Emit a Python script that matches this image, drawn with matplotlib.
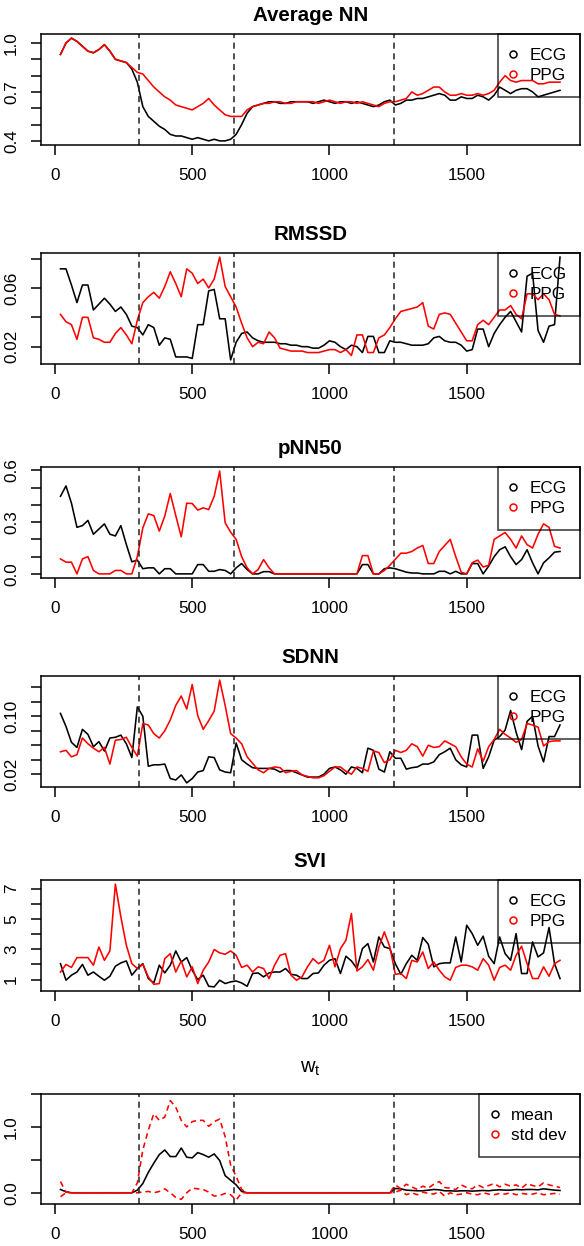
import numpy as np
import matplotlib
matplotlib.use("Agg")
import matplotlib.pyplot as plt
from matplotlib.lines import Line2D

plt.rcParams['font.family'] = ['Liberation Sans', 'DejaVu Sans']
plt.rcParams['mathtext.fontset'] = 'custom'
plt.rcParams['mathtext.rm'] = 'Liberation Sans'
plt.rcParams['mathtext.it'] = 'Liberation Sans'

# time axis (s) and event markers
time = np.arange(20, 1841, 20)
events = [307, 651, 1234]
xticks = [0, 500, 1000, 1500]

avgnn_ecg = [0.93, 1.00, 1.03, 1.01, 0.98, 0.95, 0.94, 0.96, 0.99, 0.95,
             0.90, 0.89, 0.88, 0.84, 0.76, 0.61, 0.55, 0.52, 0.49, 0.47,
             0.44, 0.43, 0.43, 0.42, 0.41, 0.42, 0.41, 0.40, 0.41, 0.40,
             0.40, 0.41, 0.44, 0.50, 0.57, 0.61, 0.62, 0.63, 0.64, 0.64,
             0.63, 0.63, 0.64, 0.64, 0.64, 0.64, 0.63, 0.64, 0.65, 0.64,
             0.63, 0.64, 0.64, 0.63, 0.64, 0.63, 0.62, 0.61, 0.62, 0.64,
             0.65, 0.62, 0.63, 0.65, 0.65, 0.66, 0.66, 0.67, 0.68, 0.69,
             0.68, 0.65, 0.65, 0.67, 0.66, 0.66, 0.68, 0.67, 0.65, 0.68,
             0.73, 0.71, 0.69, 0.71, 0.72, 0.72, 0.70, 0.67, 0.68, 0.69,
             0.70, 0.71]
avgnn_ppg = [0.93, 1.00, 1.03, 1.01, 0.98, 0.95, 0.94, 0.96, 0.99, 0.95,
             0.90, 0.89, 0.88, 0.85, 0.82, 0.81, 0.77, 0.73, 0.70, 0.67,
             0.65, 0.62, 0.61, 0.60, 0.59, 0.61, 0.63, 0.66, 0.62, 0.59,
             0.56, 0.55, 0.55, 0.55, 0.59, 0.61, 0.62, 0.63, 0.63, 0.64,
             0.64, 0.63, 0.63, 0.64, 0.64, 0.64, 0.64, 0.63, 0.64, 0.65,
             0.64, 0.63, 0.64, 0.64, 0.63, 0.64, 0.63, 0.62, 0.61, 0.63,
             0.64, 0.64, 0.65, 0.66, 0.70, 0.68, 0.69, 0.71, 0.73, 0.73,
             0.70, 0.68, 0.68, 0.69, 0.68, 0.68, 0.69, 0.68, 0.69, 0.71,
             0.76, 0.80, 0.77, 0.76, 0.77, 0.77, 0.77, 0.75, 0.75, 0.76,
             0.76, 0.76]

rmssd_ecg = [0.073, 0.073, 0.062, 0.050, 0.062, 0.062, 0.045, 0.049, 0.053, 0.049,
             0.044, 0.047, 0.042, 0.034, 0.033, 0.028, 0.035, 0.033, 0.021, 0.026,
             0.025, 0.013, 0.013, 0.013, 0.012, 0.035, 0.035, 0.058, 0.059, 0.039,
             0.039, 0.011, 0.023, 0.029, 0.030, 0.026, 0.024, 0.023, 0.023, 0.023,
             0.022, 0.022, 0.021, 0.021, 0.020, 0.020, 0.019, 0.019, 0.021, 0.024,
             0.023, 0.020, 0.018, 0.021, 0.020, 0.016, 0.027, 0.027, 0.016, 0.016,
             0.024, 0.023, 0.023, 0.022, 0.021, 0.021, 0.021, 0.022, 0.026, 0.027,
             0.024, 0.023, 0.023, 0.021, 0.017, 0.018, 0.032, 0.032, 0.020, 0.029,
             0.035, 0.040, 0.044, 0.037, 0.030, 0.068, 0.070, 0.031, 0.023, 0.034,
             0.035, 0.081]
rmssd_ppg = [0.042, 0.037, 0.035, 0.025, 0.040, 0.040, 0.026, 0.025, 0.023, 0.023,
             0.029, 0.033, 0.028, 0.022, 0.038, 0.050, 0.054, 0.057, 0.053, 0.061,
             0.071, 0.063, 0.054, 0.073, 0.070, 0.063, 0.066, 0.060, 0.066, 0.081,
             0.061, 0.054, 0.047, 0.036, 0.026, 0.020, 0.023, 0.022, 0.030, 0.026,
             0.019, 0.018, 0.017, 0.017, 0.017, 0.016, 0.016, 0.016, 0.017, 0.018,
             0.018, 0.016, 0.018, 0.014, 0.028, 0.028, 0.016, 0.016, 0.026, 0.028,
             0.033, 0.039, 0.044, 0.045, 0.046, 0.047, 0.050, 0.034, 0.032, 0.042,
             0.043, 0.042, 0.036, 0.030, 0.024, 0.024, 0.035, 0.038, 0.035, 0.040,
             0.045, 0.045, 0.048, 0.042, 0.039, 0.056, 0.056, 0.052, 0.056, 0.052,
             0.042, 0.041]

pnn50_ecg = [0.45, 0.51, 0.41, 0.27, 0.28, 0.31, 0.23, 0.26, 0.29, 0.23,
             0.22, 0.28, 0.17, 0.07, 0.08, 0.03, 0.035, 0.035, 0.0, 0.03,
             0.03, 0.0, 0.0, 0.0, 0.0, 0.054, 0.054, 0.015, 0.015, 0.025,
             0.02, 0.0, 0.035, 0.06, 0.025, 0.0, 0.0, 0.013, 0.013, 0.0,
             0.0, 0.0, 0.0, 0.0, 0.0, 0.0, 0.0, 0.0, 0.0, 0.0,
             0.0, 0.0, 0.0, 0.0, 0.0, 0.054, 0.054, 0.0, 0.0, 0.03,
             0.035, 0.03, 0.02, 0.01, 0.005, 0.005, 0.0, 0.0, 0.0, 0.015,
             0.015, 0.0, 0.015, 0.0, 0.0, 0.06, 0.06, 0.0, 0.045, 0.10,
             0.14, 0.157, 0.10, 0.054, 0.083, 0.14, 0.064, 0.0, 0.064, 0.093,
             0.126, 0.13]
pnn50_ppg = [0.087, 0.068, 0.068, 0.0, 0.087, 0.10, 0.02, 0.0, 0.0, 0.0,
             0.02, 0.02, 0.0, 0.0, 0.10, 0.267, 0.348, 0.338, 0.248, 0.335,
             0.466, 0.338, 0.215, 0.41, 0.408, 0.37, 0.383, 0.373, 0.45, 0.596,
             0.296, 0.242, 0.20, 0.10, 0.035, 0.0, 0.025, 0.083, 0.035, 0.0,
             0.0, 0.0, 0.0, 0.0, 0.0, 0.0, 0.0, 0.0, 0.0, 0.0,
             0.0, 0.0, 0.0, 0.0, 0.0, 0.106, 0.106, 0.0, 0.0, 0.02,
             0.05, 0.085, 0.12, 0.12, 0.13, 0.15, 0.165, 0.06, 0.06, 0.13,
             0.165, 0.20, 0.10, 0.01, 0.0, 0.065, 0.08, 0.04, 0.05, 0.20,
             0.22, 0.24, 0.20, 0.15, 0.22, 0.17, 0.15, 0.23, 0.29, 0.27,
             0.16, 0.15]

sdnn_ecg = [0.104, 0.086, 0.064, 0.057, 0.082, 0.075, 0.058, 0.065, 0.052, 0.070,
            0.071, 0.074, 0.062, 0.043, 0.113, 0.100, 0.031, 0.033, 0.033, 0.034,
            0.014, 0.012, 0.019, 0.008, 0.014, 0.023, 0.025, 0.044, 0.043, 0.026,
            0.023, 0.022, 0.063, 0.040, 0.034, 0.029, 0.028, 0.028, 0.028, 0.027,
            0.023, 0.025, 0.025, 0.022, 0.019, 0.016, 0.016, 0.016, 0.020, 0.028,
            0.030, 0.026, 0.020, 0.030, 0.028, 0.022, 0.056, 0.053, 0.027, 0.023,
            0.051, 0.042, 0.042, 0.027, 0.029, 0.030, 0.034, 0.034, 0.037, 0.047,
            0.051, 0.056, 0.040, 0.033, 0.030, 0.074, 0.074, 0.028, 0.044, 0.067,
            0.072, 0.081, 0.108, 0.078, 0.054, 0.093, 0.100, 0.059, 0.037, 0.072,
            0.072, 0.088]
sdnn_ppg = [0.051, 0.053, 0.044, 0.047, 0.070, 0.062, 0.056, 0.051, 0.057, 0.034,
            0.067, 0.068, 0.071, 0.057, 0.045, 0.090, 0.088, 0.076, 0.070, 0.080,
            0.095, 0.115, 0.128, 0.110, 0.144, 0.101, 0.082, 0.094, 0.107, 0.150,
            0.115, 0.076, 0.070, 0.062, 0.044, 0.035, 0.026, 0.022, 0.028, 0.030,
            0.029, 0.022, 0.024, 0.025, 0.019, 0.017, 0.015, 0.015, 0.018, 0.024,
            0.030, 0.030, 0.024, 0.020, 0.030, 0.028, 0.024, 0.052, 0.050, 0.036,
            0.040, 0.053, 0.050, 0.053, 0.062, 0.058, 0.045, 0.060, 0.057, 0.058,
            0.066, 0.062, 0.058, 0.044, 0.034, 0.030, 0.055, 0.038, 0.058, 0.068,
            0.082, 0.075, 0.070, 0.064, 0.068, 0.090, 0.088, 0.085, 0.059, 0.065,
            0.066, 0.066]

svi_ecg = [2.05, 0.96, 1.29, 1.50, 2.00, 1.29, 1.50, 1.22, 0.96, 1.22,
           1.88, 2.10, 2.23, 1.29, 1.73, 2.05, 1.07, 0.78, 1.95, 1.44,
           1.95, 2.89, 2.16, 2.45, 1.62, 1.00, 1.29, 0.56, 0.52, 0.96,
           0.74, 0.85, 0.91, 0.78, 0.56, 1.40, 1.44, 1.18, 1.44, 1.50,
           1.50, 1.73, 1.35, 1.29, 1.07, 1.07, 1.40, 1.44, 1.95, 2.27,
           2.38, 1.40, 2.54, 2.23, 1.73, 3.04, 3.37, 2.16, 3.81, 3.15,
           3.04, 2.05, 1.35, 2.05, 2.60, 2.27, 3.77, 3.33, 1.84, 2.05,
           2.10, 2.10, 3.81, 2.16, 4.58, 4.03, 3.26, 3.86, 2.54, 2.05,
           3.81, 2.71, 2.27, 4.03, 1.40, 1.40, 3.48, 2.49, 2.76, 4.43,
           2.05, 1.07]
svi_ppg = [1.50, 2.00, 1.80, 2.45, 2.45, 2.45, 1.95, 3.15, 2.27, 2.89,
           7.29, 5.13, 3.26, 2.05, 1.73, 2.00, 1.18, 0.69, 0.74, 2.38,
           2.71, 1.50, 2.23, 1.18, 1.84, 0.74, 1.62, 2.16, 2.98, 2.76,
           2.67, 2.89, 2.60, 1.80, 1.95, 1.50, 1.84, 1.73, 1.07, 1.95,
           2.60, 2.71, 1.29, 0.96, 1.18, 1.84, 2.38, 2.05, 2.27, 3.26,
           1.84, 3.04, 3.59, 5.35, 1.57, 1.84, 2.32, 1.62, 3.15, 4.14,
           3.15, 1.35, 1.40, 1.07, 2.27, 2.16, 2.82, 1.73, 2.16, 1.62,
           1.18, 0.96, 1.80, 1.95, 1.95, 1.84, 1.62, 2.38, 1.95, 0.96,
           1.80, 1.95, 1.62, 2.60, 3.20, 2.05, 1.07, 1.07, 1.84, 1.22,
           2.05, 2.27]

wt_mean = [0.05, 0.015, 0.0, 0.0, 0.0, 0.0, 0.0, 0.0, 0.0, 0.0,
           0.0, 0.0, 0.0, 0.0, 0.04, 0.14, 0.31, 0.45, 0.58, 0.65,
           0.55, 0.55, 0.68, 0.54, 0.53, 0.61, 0.58, 0.54, 0.59, 0.49,
           0.26, 0.19, 0.12, 0.02, 0.0, 0.0, 0.0, 0.0, 0.0, 0.0,
           0.0, 0.0, 0.0, 0.0, 0.0, 0.0, 0.0, 0.0, 0.0, 0.0,
           0.0, 0.0, 0.0, 0.0, 0.0, 0.0, 0.0, 0.0, 0.0, 0.0,
           0.0, 0.065, 0.06, 0.04, 0.035, 0.03, 0.03, 0.04, 0.05, 0.045,
           0.03, 0.03, 0.025, 0.03, 0.03, 0.025, 0.03, 0.035, 0.03, 0.04,
           0.045, 0.04, 0.04, 0.05, 0.045, 0.05, 0.05, 0.045, 0.06, 0.05,
           0.04, 0.035]
wt_upper = [0.17, 0.01, 0.0, 0.0, 0.0, 0.0, 0.0, 0.0, 0.0, 0.0,
            0.0, 0.0, 0.0, 0.0, 0.15, 0.65, 0.95, 1.20, 1.10, 1.15,
            1.40, 1.30, 1.10, 1.00, 1.08, 1.10, 1.10, 1.01, 1.08, 1.12,
            0.85, 0.42, 0.25, 0.05, 0.0, 0.0, 0.0, 0.0, 0.0, 0.0,
            0.0, 0.0, 0.0, 0.0, 0.0, 0.0, 0.0, 0.0, 0.0, 0.0,
            0.0, 0.0, 0.0, 0.0, 0.0, 0.0, 0.0, 0.0, 0.0, 0.0,
            0.0, 0.12, 0.06, 0.13, 0.09, 0.05, 0.10, 0.07, 0.13, 0.17,
            0.08, 0.07, 0.05, 0.12, 0.08, 0.06, 0.12, 0.08, 0.11, 0.14,
            0.09, 0.13, 0.10, 0.12, 0.07, 0.14, 0.11, 0.09, 0.15, 0.12,
            0.10, 0.08]
wt_lower = [-0.06, 0.0, 0.0, 0.0, 0.0, 0.0, 0.0, 0.0, 0.0, 0.0,
            0.0, 0.0, 0.0, 0.0, 0.0, 0.015, 0.02, 0.0, 0.02, 0.06,
            0.0, -0.07, -0.10, 0.0, 0.07, 0.06, 0.05, 0.01, -0.05, -0.04,
            -0.01, -0.03, -0.11, 0.0, 0.0, 0.0, 0.0, 0.0, 0.0, 0.0,
            0.0, 0.0, 0.0, 0.0, 0.0, 0.0, 0.0, 0.0, 0.0, 0.0,
            0.0, 0.0, 0.0, 0.0, 0.0, 0.0, 0.0, 0.0, 0.0, 0.0,
            0.0, 0.01, 0.04, -0.03, 0.0, -0.03, 0.01, -0.01, -0.02, 0.02,
            -0.05, 0.0, -0.03, -0.02, 0.0, -0.02, -0.03, 0.0, -0.02, -0.03,
            -0.01, -0.02, 0.0, -0.03, -0.01, -0.02, -0.02, 0.0, -0.03, -0.02,
            -0.01, -0.02]

# panel definitions: title, (series, colour, linestyle), legend labels, y ticks and labels
panels = [
    ('Average NN', [(avgnn_ecg, 'black', '-'), (avgnn_ppg, 'red', '-')], ['ECG', 'PPG'],
     [0.4, 0.5, 0.6, 0.7, 0.8, 0.9, 1.0], ['0.4', '', '', '0.7', '', '', '1.0']),
    ('RMSSD', [(rmssd_ecg, 'black', '-'), (rmssd_ppg, 'red', '-')], ['ECG', 'PPG'],
     [0.02, 0.04, 0.06, 0.08], ['0.02', '', '0.06', '']),
    ('pNN50', [(pnn50_ecg, 'black', '-'), (pnn50_ppg, 'red', '-')], ['ECG', 'PPG'],
     [0.0, 0.1, 0.2, 0.3, 0.4, 0.5, 0.6], ['0.0', '', '', '0.3', '', '', '0.6']),
    ('SDNN', [(sdnn_ecg, 'black', '-'), (sdnn_ppg, 'red', '-')], ['ECG', 'PPG'],
     [0.02, 0.04, 0.06, 0.08, 0.10, 0.12, 0.14], ['0.02', '', '', '', '0.10', '', '']),
    ('SVI', [(svi_ecg, 'black', '-'), (svi_ppg, 'red', '-')], ['ECG', 'PPG'],
     [1, 2, 3, 4, 5, 6, 7], ['1', '', '3', '', '5', '', '7']),
    (r'$\mathrm{w}_\mathrm{t}$', [(wt_mean, 'black', '-'), (wt_upper, 'red', (0, (3.5, 2.5))),
                                   (wt_lower, 'red', (0, (3.5, 2.5)))], ['mean', 'std dev'],
     [0.0, 0.5, 1.0, 1.5], ['0.0', '', '1.0', '']),
]

# box positions in pixels (top, bottom)
W, H = 584, 1246
boxes = [(34, 145), (253, 364), (467, 578), (676, 787), (880, 991), (1094, 1204)]
left_px, right_px = 40.5, 580

fig = plt.figure(figsize=(W / 100, H / 100), dpi=100)

lo, hi = time.min(), time.max()
xpad = 0.04 * (hi - lo)

for k, (title, series, labels, yt, yl) in enumerate(panels):
    top, bot = boxes[k]
    ax = fig.add_axes([left_px / W, 1 - bot / H, (right_px - left_px) / W, (bot - top) / H])
    for vals, col, ls in series:
        ax.plot(time, vals, color=col, ls=ls, lw=1.15)
    for ev in events:
        ax.axvline(ev, color='#222222', ls=(0, (4, 3)), lw=1.1)
    ax.set_xlim(lo - xpad, hi + xpad)
    ax.margins(y=0.04)
    ax.set_xticks(xticks)
    ax.set_xticklabels([str(t) for t in xticks])
    ax.set_yticks(yt)
    ax.set_yticklabels(yl, rotation=90, va='center')
    ax.tick_params(direction='out', length=7.5, width=1.1, labelsize=12.3)
    ax.tick_params(axis='x', pad=9)
    ax.tick_params(axis='y', pad=8)
    for sp in ax.spines.values():
        sp.set_linewidth(1.1)
    if k == 5:
        ax.set_title(title, fontsize=14.5, pad=15)
    else:
        ax.set_title(title, fontsize=14.8, fontweight='bold', pad=9.5)
    cols = [s[1] for s in series[:2]]
    handles = [Line2D([], [], ls='none', marker='o', mfc='none', mec=c, ms=5, mew=1.1) for c in cols]
    leg = ax.legend(handles, labels, loc='upper right', bbox_to_anchor=(1, 1), borderaxespad=0,
                    fontsize=12.3, frameon=True, fancybox=False, edgecolor='black',
                    facecolor='none', framealpha=None, labelspacing=0.32, borderpad=0.8,
                    handlelength=0.2, handletextpad=0.85)
    leg.get_frame().set_linewidth(1.1)

fig.savefig('out.png', dpi=100)
